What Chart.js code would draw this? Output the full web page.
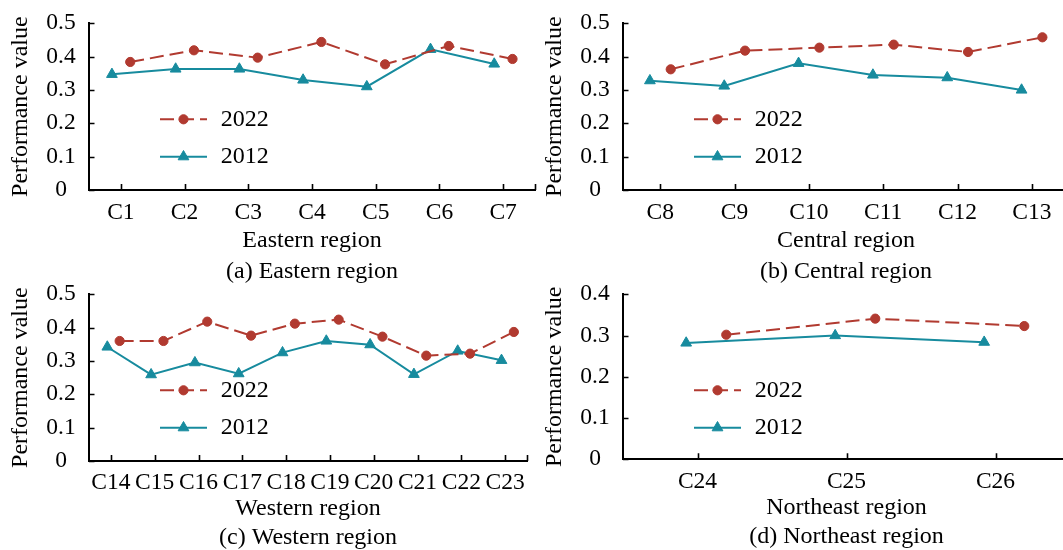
<!DOCTYPE html>
<html>
<head>
<meta charset="utf-8">
<script src="https://cdn.jsdelivr.net/npm/chart.js"></script>
<style>
  html, body { margin: 0; padding: 0; background: #fff; width: 1063px; height: 550px; overflow: hidden; }
  canvas { position: absolute; }
</style>
</head>
<body>
<canvas id="east"></canvas>
<canvas id="central"></canvas>
<canvas id="west"></canvas>
<canvas id="northeast"></canvas>
<script>
// ---- data ----
const eastCats = ['C1', 'C2', 'C3', 'C4', 'C5', 'C6', 'C7'];
const east2022 = [0.384, 0.419, 0.397, 0.444, 0.377, 0.432, 0.393];
const east2012 = [0.347, 0.363, 0.363, 0.330, 0.310, 0.422, 0.378];

const centralCats = ['C8', 'C9', 'C10', 'C11', 'C12', 'C13'];
const central2022 = [0.362, 0.418, 0.427, 0.436, 0.414, 0.458];
const central2012 = [0.328, 0.312, 0.380, 0.345, 0.337, 0.300];

const westCats = ['C14', 'C15', 'C16', 'C17', 'C18', 'C19', 'C20', 'C21', 'C22', 'C23'];
const west2022 = [0.360, 0.360, 0.418, 0.376, 0.412, 0.424, 0.373, 0.316, 0.322, 0.387];
const west2012 = [0.342, 0.259, 0.295, 0.262, 0.325, 0.360, 0.349, 0.260, 0.330, 0.302];

const northeastCats = ['C24', 'C25', 'C26'];
const northeast2022 = [0.302, 0.341, 0.323];
const northeast2012 = [0.282, 0.300, 0.284];

const seriesNames = ['2022', '2012'];

// ---- styling ----
const RED = '#B13A30';
const TEAL = '#178B9E';
const FONT = "'Liberation Serif', 'Times New Roman', serif";
Chart.defaults.font.family = FONT;
Chart.defaults.color = '#000';

// Plot geometry of each sub-figure (canvas origin, plot size, y range, series x-shift, x-axis band)
const panels = [
  { id: 'east', cats: eastCats, a: east2022, b: east2012, xTitle: 'Eastern region', caption: '(a) Eastern region',
    left: 0, top: 0, plotW: 446, plotH: 166.7, yMax: 0.5, shiftA: 0.147, shiftB: -0.14,
    xAxisH: 67.6, tickPad: 9, xTitlePad: 2.4 },
  { id: 'central', cats: centralCats, a: central2022, b: central2012, xTitle: 'Central region', caption: '(b) Central region',
    left: 534, top: 0, plotW: 446, plotH: 166.7, yMax: 0.5, shiftA: 0.142, shiftB: -0.138,
    xAxisH: 67.6, tickPad: 9, xTitlePad: 2.4 },
  { id: 'west', cats: westCats, a: west2022, b: west2012, xTitle: 'Western region', caption: '(c) Western region',
    left: 0, top: 270.7, plotW: 438, plotH: 166.7, yMax: 0.5, shiftA: 0.2, shiftB: -0.082,
    xAxisH: 62.6, tickPad: 7.5, xTitlePad: 0 },
  { id: 'northeast', cats: northeastCats, a: northeast2022, b: northeast2012, xTitle: 'Northeast region', caption: '(d) Northeast region',
    left: 534, top: 270.7, plotW: 447, plotH: 165, yMax: 0.4, shiftA: 0.193, shiftB: -0.076,
    xAxisH: 63.5, tickPad: 8, xTitlePad: 0.5 }
];

const Y_AXIS_W = 89, PAD_TOP = 23.3, PAD_RIGHT = 10, CAPTION_H = 28.8, PAD_BOTTOM = 6;

// Inward tick marks on both axes and the in-plot key
const axisDecor = {
  id: 'axisDecor',
  afterDraw(chart, args, opts) {
    const ctx = chart.ctx;
    const xs = chart.scales.x, ys = chart.scales.y;
    const area = chart.chartArea;
    ctx.save();
    ctx.strokeStyle = '#000';
    ctx.lineWidth = 1.6;
    ctx.setLineDash([]);
    ctx.beginPath();
    const xVals = xs.ticks.map(t => t.value).concat([xs.max]);
    xVals.forEach(v => {
      const px = Math.round(xs.getPixelForValue(v)) + 0.5;
      ctx.moveTo(px, area.bottom);
      ctx.lineTo(px, area.bottom - 6);
    });
    ys.ticks.forEach(t => {
      const py = Math.round(ys.getPixelForValue(t.value)) + 0.5;
      ctx.moveTo(area.left, py);
      ctx.lineTo(area.left + 5.5, py);
    });
    ctx.stroke();

    // key
    chart.data.datasets.forEach((ds, i) => {
      const y = area.top + opts.rows[i];
      const x0 = area.left + opts.dx;
      ctx.strokeStyle = ds.borderColor;
      ctx.lineWidth = ds.borderWidth;
      ctx.setLineDash(ds.borderDash || []);
      ctx.beginPath();
      ctx.moveTo(x0, y);
      ctx.lineTo(x0 + opts.lineLen, y);
      ctx.stroke();
      ctx.setLineDash([]);
      const cx = x0 + opts.lineLen / 2;
      ctx.fillStyle = ds.pointBackgroundColor;
      ctx.strokeStyle = ds.pointBorderColor;
      ctx.lineWidth = 1;
      const r = ds.pointRadius;
      ctx.beginPath();
      if (ds.pointStyle === 'triangle') {
        let rad = 0;
        ctx.moveTo(cx + Math.sin(rad) * r, y - Math.cos(rad) * r);
        rad += 2 * Math.PI / 3;
        ctx.lineTo(cx + Math.sin(rad) * r, y - Math.cos(rad) * r);
        rad += 2 * Math.PI / 3;
        ctx.lineTo(cx + Math.sin(rad) * r, y - Math.cos(rad) * r);
        ctx.closePath();
      } else {
        ctx.arc(cx, y, r, 0, Math.PI * 2);
      }
      ctx.fill();
      ctx.stroke();
      ctx.fillStyle = '#000';
      ctx.font = '24px ' + FONT;
      ctx.textAlign = 'left';
      ctx.textBaseline = 'middle';
      ctx.fillText(ds.label, area.left + opts.textDx, y);
    });
    ctx.restore();
  }
};

panels.forEach(p => {
  const canvas = document.getElementById(p.id);
  const w = Y_AXIS_W + p.plotW + PAD_RIGHT;
  const h = PAD_TOP + p.plotH + p.xAxisH + CAPTION_H + PAD_BOTTOM;
  canvas.width = Math.round(w);
  canvas.height = Math.round(h);
  canvas.style.left = p.left + 'px';
  canvas.style.top = p.top + 'px';
  const padBottom = PAD_BOTTOM + (Math.round(h) - h);
  const padRight = PAD_RIGHT + (Math.round(w) - w);

  const cats = p.cats;
  new Chart(canvas, {
    type: 'line',
    data: {
      datasets: [
        {
          label: seriesNames[0],
          data: p.a.map((v, i) => ({ x: i + p.shiftA, y: v })),
          borderColor: RED, backgroundColor: RED, borderWidth: 2, borderDash: [14, 6],
          pointStyle: 'circle', pointRadius: 4.6, pointBackgroundColor: RED, pointBorderColor: RED,
          pointBorderWidth: 1, tension: 0, fill: false
        },
        {
          label: seriesNames[1],
          data: p.b.map((v, i) => ({ x: i + p.shiftB, y: v })),
          borderColor: TEAL, backgroundColor: TEAL, borderWidth: 2,
          pointStyle: 'triangle', pointRadius: 6.2, pointBackgroundColor: TEAL, pointBorderColor: TEAL,
          pointBorderWidth: 1, tension: 0, fill: false
        }
      ]
    },
    options: {
      responsive: false,
      animation: false,
      events: [],
      layout: { padding: { left: 0, right: padRight, top: PAD_TOP, bottom: padBottom } },
      scales: {
        x: {
          type: 'linear', bounds: 'data', min: -0.5, max: cats.length - 0.5,
          afterBuildTicks: s => { s.ticks = cats.map((c, i) => ({ value: i })); },
          afterFit: s => { s.height = p.xAxisH; },
          ticks: {
            autoSkip: false, maxRotation: 0, minRotation: 0, padding: p.tickPad, color: '#000',
            font: { size: 23.5 }, callback: v => cats[Math.round(v)]
          },
          grid: { display: true, drawOnChartArea: false, drawTicks: false },
          border: { display: true, color: '#000', width: 2 },
          title: { display: true, text: p.xTitle, color: '#000', font: { size: 24 }, padding: { top: 0, bottom: p.xTitlePad } }
        },
        y: {
          min: 0, max: p.yMax,
          afterFit: s => { s.width = Y_AXIS_W; },
          ticks: { stepSize: 0.1, crossAlign: 'center', padding: 13.3, color: '#000', font: { size: 23.5, lineHeight: 0.6 } },
          grid: { display: true, drawOnChartArea: false, drawTicks: false },
          border: { display: true, color: '#000', width: 2 },
          title: { display: true, text: 'Performance value', color: '#000', font: { size: 24 }, padding: { top: 6.8, bottom: 0 } }
        }
      },
      plugins: {
        legend: { display: false },
        tooltip: { enabled: false },
        title: {
          display: true, text: p.caption, position: 'bottom', fullSize: false, color: '#000',
          font: { size: 24, weight: 'normal' }, padding: { top: 0, bottom: 0 }
        },
        axisDecor: { dx: 71, rows: [96, 133.4], lineLen: 47, textDx: 131.7 }
      }
    },
    plugins: [axisDecor]
  });
});
</script>
</body>
</html>
